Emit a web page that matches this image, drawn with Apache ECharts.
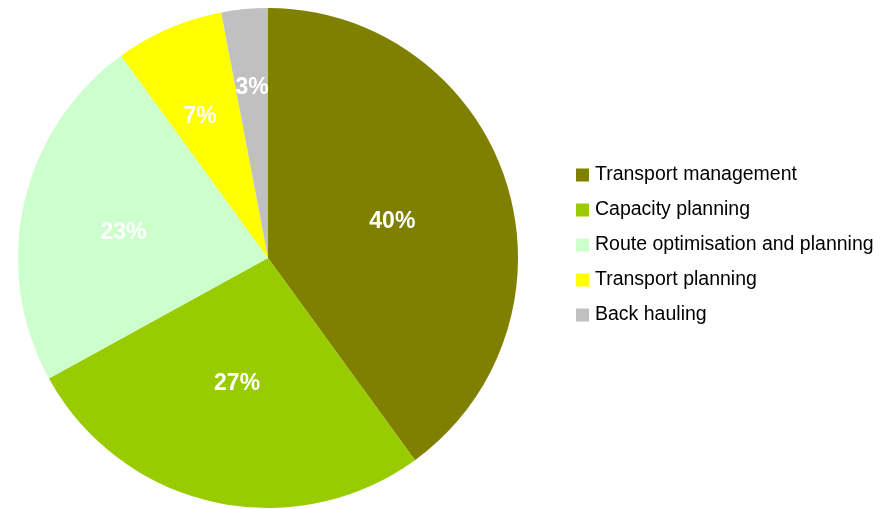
<!DOCTYPE html>
<html>
<head>
<meta charset="utf-8">
<script src="https://cdn.jsdelivr.net/npm/echarts@6/dist/echarts.min.js"></script>
<style>
  html, body { margin: 0; padding: 0; background: #fff; }
  #chart { width: 895px; height: 509px; }
</style>
</head>
<body>
<div id="chart"></div>
<script>
// Share of respondents by planning area (percent)
const categories = [
  'Transport management',
  'Capacity planning',
  'Route optimisation and planning',
  'Transport planning',
  'Back hauling'
];
const shares = [40, 27, 23, 7, 3];
const sliceColors = ['#808000', '#99CC00', '#CCFFCC', '#FFFF00', '#C0C0C0'];

// Percentage label placement: distance from the centre (px) and a small
// angular nudge (degrees) away from each slice's mid angle
const labelRadius = [130, 127, 147, 159, 173];
const labelAngleNudge = [1, 1.5, -2, -1.9, 0.1];

const CX = 268, CY = 258, R = 250;
const total = shares.reduce((a, b) => a + b, 0);

// Mid angle (degrees clockwise from 12 o'clock) of each slice
const midAngles = [];
let acc = 0;
shares.forEach(v => {
  midAngles.push((acc + v / 2) / total * 360);
  acc += v;
});

const chart = echarts.init(document.getElementById('chart'), null, { renderer: 'canvas' });
chart.setOption({
  animation: false,
  backgroundColor: '#ffffff',
  color: sliceColors,
  legend: {
    orient: 'vertical',
    left: 576,
    top: 165,
    padding: 0,
    itemWidth: 13,
    itemHeight: 13,
    itemGap: 15,
    icon: 'rect',
    selectedMode: false,
    textStyle: {
      fontFamily: 'Liberation Sans, Arial, sans-serif',
      fontSize: 19.5,
      lineHeight: 20,
      color: '#000',
      padding: [0, 0, 0, 1]
    },
    data: categories
  },
  series: [{
    type: 'pie',
    center: [CX, CY],
    radius: [0, R],
    startAngle: 90,
    clockwise: true,
    silent: true,
    itemStyle: { borderWidth: 0 },
    emphasis: { disabled: true },
    label: {
      show: true,
      position: 'inside',
      formatter: p => p.value + '%',
      color: '#ffffff',
      fontFamily: 'Liberation Sans, Arial, sans-serif',
      fontWeight: 'bold',
      fontSize: 23
    },
    labelLine: { show: false },
    labelLayout: params => {
      const i = params.dataIndex;
      const a = (midAngles[i] + labelAngleNudge[i]) * Math.PI / 180;
      return {
        x: CX + labelRadius[i] * Math.sin(a),
        y: CY - labelRadius[i] * Math.cos(a) + 2,
        align: 'center',
        verticalAlign: 'middle'
      };
    },
    data: categories.map((name, i) => ({ name: name, value: shares[i] }))
  }]
});
</script>
</body>
</html>
